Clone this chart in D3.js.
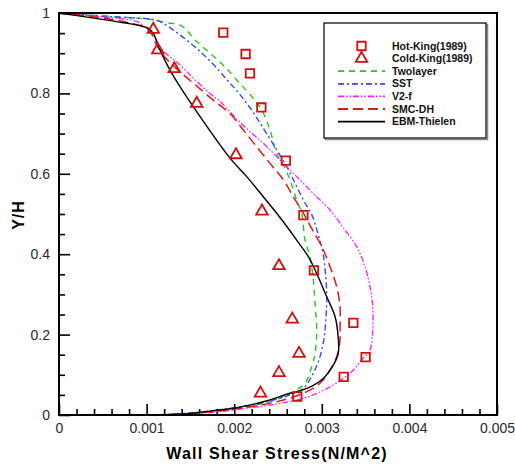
<!DOCTYPE html>
<html>
<head>
<meta charset="utf-8">
<script src="https://cdn.jsdelivr.net/npm/d3@7"></script>
<style>
  html, body { margin: 0; padding: 0; background: #fff; }
  svg { display: block; }
  text { font-family: "Liberation Sans", Arial, sans-serif; }
</style>
</head>
<body>
<svg id="chart" width="515" height="468"></svg>
<script>
// Wall shear stress profiles across the channel height, Y/H vs stress (N/m^2)

const xTicks = [0, 0.001, 0.002, 0.003, 0.004, 0.005];
const xTickLabels = ["0", "0.001", "0.002", "0.003", "0.004", "0.005"];
const yTicks = [0, 0.2, 0.4, 0.6, 0.8, 1];
const yTickLabels = ["0", "0.2", "0.4", "0.6", "0.8", "1"];

const seriesNames = ["Hot-King(1989)", "Cold-King(1989)", "Twolayer", "SST", "V2-f", "SMC-DH", "EBM-Thielen"];

// Measurements, [stress, Y/H]
const hotKing = [
  [0.001875, 0.951], [0.00213, 0.898], [0.00218, 0.850], [0.00231, 0.765],
  [0.00259, 0.633], [0.00279, 0.497], [0.00291, 0.360], [0.00336, 0.229],
  [0.00350, 0.144], [0.00325, 0.095], [0.00272, 0.046]
];
const coldKing = [
  [0.001076, 0.959], [0.001127, 0.908], [0.001316, 0.861], [0.001572, 0.775],
  [0.00202, 0.647], [0.002317, 0.507], [0.002511, 0.371], [0.002663, 0.238],
  [0.00274, 0.153], [0.002511, 0.105], [0.0023, 0.054]
];

// Model predictions, [stress, Y/H]
const twolayer = [
  [0, 1.0], [0.0005, 0.993], [0.00095, 0.986], [0.001076, 0.983], [0.001229, 0.976],
  [0.0014, 0.968], [0.001553, 0.933], [0.001723, 0.900], [0.001895, 0.866],
  [0.002047, 0.829], [0.002218, 0.788], [0.002314, 0.759], [0.002409, 0.709],
  [0.002485, 0.651], [0.00258, 0.614], [0.002637, 0.585], [0.002713, 0.535],
  [0.00277, 0.502], [0.002808, 0.435], [0.002865, 0.394], [0.002903, 0.336],
  [0.002922, 0.278], [0.002942, 0.211], [0.002922, 0.153], [0.002885, 0.120],
  [0.002808, 0.079], [0.002675, 0.058], [0.002523, 0.042], [0.002257, 0.025],
  [0.001952, 0.014], [0.0015, 0.004], [0.0011, 0.0]
];
const sst = [
  [0, 1.0], [0.0005, 0.992], [0.00082, 0.988], [0.001, 0.986], [0.001141, 0.980],
  [0.001309, 0.957], [0.001461, 0.932], [0.001613, 0.904], [0.001766, 0.871],
  [0.001918, 0.834], [0.002066, 0.797], [0.002207, 0.756], [0.002344, 0.709],
  [0.002484, 0.660], [0.002599, 0.618], [0.002694, 0.577], [0.002789, 0.535],
  [0.002884, 0.499], [0.00296, 0.448], [0.003017, 0.398], [0.003056, 0.303],
  [0.003048, 0.245], [0.003025, 0.190], [0.002979, 0.145], [0.002903, 0.104],
  [0.002789, 0.066], [0.002637, 0.050], [0.002371, 0.033], [0.002, 0.018],
  [0.0015, 0.005], [0.0011, 0.0]
];
const v2f = [
  [0, 1.0], [0.0005, 0.990], [0.0009, 0.978], [0.000968, 0.966], [0.001043, 0.954],
  [0.001195, 0.905], [0.001381, 0.871], [0.001533, 0.838], [0.001723, 0.800],
  [0.001838, 0.780], [0.001952, 0.754], [0.002066, 0.728], [0.0022, 0.701],
  [0.002332, 0.676], [0.002561, 0.626], [0.002713, 0.593], [0.002903, 0.551],
  [0.003094, 0.510], [0.003245, 0.466], [0.003398, 0.419], [0.003493, 0.369],
  [0.00355, 0.319], [0.003581, 0.269], [0.003581, 0.211], [0.00355, 0.162],
  [0.003455, 0.137], [0.00336, 0.112], [0.003245, 0.091], [0.003094, 0.070],
  [0.002903, 0.050], [0.002713, 0.037], [0.002523, 0.029], [0.002332, 0.022],
  [0.002143, 0.017], [0.001952, 0.011], [0.0015, 0.003], [0.0011, 0.0]
];
const smcDh = [
  [0, 1.0], [0.0005, 0.988], [0.00095, 0.967], [0.00103, 0.958], [0.001115, 0.920],
  [0.00121, 0.890], [0.001381, 0.854], [0.001553, 0.822], [0.001723, 0.790],
  [0.001838, 0.770], [0.001952, 0.750], [0.002104, 0.709], [0.002257, 0.667],
  [0.002409, 0.626], [0.002561, 0.585], [0.002675, 0.543], [0.002789, 0.502],
  [0.002884, 0.464], [0.002999, 0.419], [0.003094, 0.369], [0.00317, 0.319],
  [0.003208, 0.269], [0.003208, 0.220], [0.003208, 0.187], [0.00317, 0.145],
  [0.003094, 0.112], [0.002979, 0.079], [0.002828, 0.058], [0.002637, 0.042],
  [0.002446, 0.031], [0.002143, 0.019], [0.001876, 0.011], [0.001647, 0.006],
  [0.0012, 0.0]
];
const ebmThielen = [
  [0, 1.0], [0.00038, 0.988], [0.000761, 0.975], [0.000951, 0.967], [0.001027, 0.961],
  [0.001084, 0.946], [0.001142, 0.913], [0.00119, 0.891], [0.001267, 0.858],
  [0.001381, 0.817], [0.001533, 0.767], [0.001704, 0.713], [0.001952, 0.639],
  [0.002143, 0.593], [0.002332, 0.543], [0.002485, 0.502], [0.002618, 0.464],
  [0.002713, 0.435], [0.002846, 0.394], [0.002942, 0.352], [0.003056, 0.294],
  [0.003151, 0.245], [0.003188, 0.191], [0.003188, 0.153], [0.003131, 0.124],
  [0.003017, 0.091], [0.002828, 0.066], [0.002637, 0.054], [0.002332, 0.033],
  [0.002029, 0.018], [0.001761, 0.011], [0.001495, 0.004], [0.00105, 0.0]
];

const svg = d3.select("#chart");
const plot = { left: 59, top: 13, right: 497, bottom: 415 };

const x = d3.scaleLinear().domain([0, 0.005]).range([plot.left, plot.right]);
const y = d3.scaleLinear().domain([0, 1]).range([plot.bottom, plot.top]);

const red = "#d40f0f";
const lineSeries = [
  { name: seriesNames[2], data: twolayer,   color: "#1ccc1c", dash: "6,5",             width: 1.4 },
  { name: seriesNames[3], data: sst,        color: "#3a45ff", dash: "6,3,2,3",         width: 1.4 },
  { name: seriesNames[4], data: v2f,        color: "#ff1aff", dash: "6,2,1.5,2,1.5,2", width: 1.3 },
  { name: seriesNames[5], data: smcDh,      color: "#dd1a1a", dash: "10,5",            width: 1.5 },
  { name: seriesNames[6], data: ebmThielen, color: "#000000", dash: null,              width: 1.4 }
];

// Axes with inward ticks
const minorX = d3.range(0, 0.00501, 0.0002).filter(v => Math.abs(v / 0.001 - Math.round(v / 0.001)) > 1e-6);
const minorY = d3.range(0, 1.001, 0.05).filter(v => Math.abs(v / 0.2 - Math.round(v / 0.2)) > 1e-6);

const xAxis = d3.axisBottom(x).tickValues(xTicks).tickFormat((d, i) => xTickLabels[i])
  .tickSize(-11).tickSizeOuter(0).tickPadding(8);
const yAxis = d3.axisLeft(y).tickValues(yTicks).tickFormat((d, i) => yTickLabels[i])
  .tickSize(-11).tickSizeOuter(0).tickPadding(9);

svg.append("g").attr("transform", `translate(0,${plot.bottom})`).call(xAxis);
svg.append("g").attr("transform", `translate(${plot.left},0)`).call(yAxis);
svg.append("g").attr("transform", `translate(0,${plot.bottom})`)
  .call(d3.axisBottom(x).tickValues(minorX).tickFormat("").tickSize(-6).tickSizeOuter(0));
svg.append("g").attr("transform", `translate(${plot.left},0)`)
  .call(d3.axisLeft(y).tickValues(minorY).tickFormat("").tickSize(-6).tickSizeOuter(0));

svg.selectAll(".domain").remove();
svg.selectAll(".tick line").attr("stroke", "#000").attr("stroke-width", 1.6);
svg.selectAll(".tick text").attr("font-size", 14).attr("fill", "#2a2a2a")
  .attr("font-family", "'Liberation Sans', Arial, sans-serif");

// Curves
const line = d3.line().x(d => x(d[0])).y(d => y(d[1])).curve(d3.curveCatmullRom.alpha(0.5));
svg.append("clipPath").attr("id", "plotclip").append("rect")
  .attr("x", plot.left).attr("y", plot.top)
  .attr("width", plot.right - plot.left).attr("height", plot.bottom - plot.top);

const curves = svg.append("g").attr("clip-path", "url(#plotclip)");
lineSeries.forEach(s => {
  curves.append("path").datum(s.data)
    .attr("d", line)
    .attr("fill", "none")
    .attr("stroke", s.color)
    .attr("stroke-width", s.width)
    .attr("stroke-dasharray", s.dash);
});

// Measured points
const sq = d3.symbol().type(d3.symbolSquare).size(72);
const tri = d3.symbol().type(d3.symbolTriangle).size(58);
svg.append("g").selectAll("path").data(hotKing).join("path")
  .attr("d", sq).attr("transform", d => `translate(${x(d[0])},${y(d[1])})`)
  .attr("fill", "none").attr("stroke", red).attr("stroke-width", 1.8);
svg.append("g").selectAll("path").data(coldKing).join("path")
  .attr("d", tri).attr("transform", d => `translate(${x(d[0])},${y(d[1])})`)
  .attr("fill", "none").attr("stroke", red).attr("stroke-width", 1.8);

// Frame
svg.append("rect")
  .attr("x", plot.left).attr("y", plot.top)
  .attr("width", plot.right - plot.left).attr("height", plot.bottom - plot.top)
  .attr("fill", "none").attr("stroke", "#000").attr("stroke-width", 2);

// Axis titles
svg.append("text")
  .attr("x", 277).attr("y", 459)
  .attr("text-anchor", "middle")
  .attr("font-size", 16).attr("font-weight", "bold")
  .attr("letter-spacing", 1.2)
  .text("Wall Shear Stress(N/M^2)");
svg.append("text")
  .attr("transform", "translate(24,215) rotate(-90)")
  .attr("text-anchor", "middle")
  .attr("font-size", 16).attr("font-weight", "bold")
  .attr("letter-spacing", 1)
  .text("Y/H");

// Legend
const lg = svg.append("g");
lg.append("rect").attr("x", 325.5).attr("y", 24.5).attr("width", 162).attr("height", 115)
  .attr("fill", "none").attr("stroke", "#888").attr("stroke-width", 1.5);
lg.append("rect").attr("x", 324).attr("y", 23).attr("width", 162).attr("height", 115)
  .attr("fill", "#fff").attr("stroke", "#111").attr("stroke-width", 1.3);

const ly0 = 46, lstep = 12.6, lx1 = 338, lx2 = 385, ltx = 392;
lg.append("path").attr("d", sq).attr("transform", `translate(${(lx1 + lx2) / 2},${ly0})`)
  .attr("fill", "none").attr("stroke", red).attr("stroke-width", 1.8);
lg.append("path").attr("d", tri).attr("transform", `translate(${(lx1 + lx2) / 2},${ly0 + lstep})`)
  .attr("fill", "none").attr("stroke", red).attr("stroke-width", 1.8);
lineSeries.forEach((s, i) => {
  const yy = ly0 + lstep * (i + 2);
  lg.append("line").attr("x1", lx1).attr("x2", lx2).attr("y1", yy).attr("y2", yy)
    .attr("stroke", s.color).attr("stroke-width", s.width + 0.4).attr("stroke-dasharray", s.dash);
});
seriesNames.forEach((n, i) => {
  lg.append("text").attr("x", ltx).attr("y", ly0 + lstep * i).attr("dy", "0.35em")
    .attr("font-size", 10.5).attr("font-weight", "bold").attr("fill", "#111")
    .text(n);
});
</script>
</body>
</html>
